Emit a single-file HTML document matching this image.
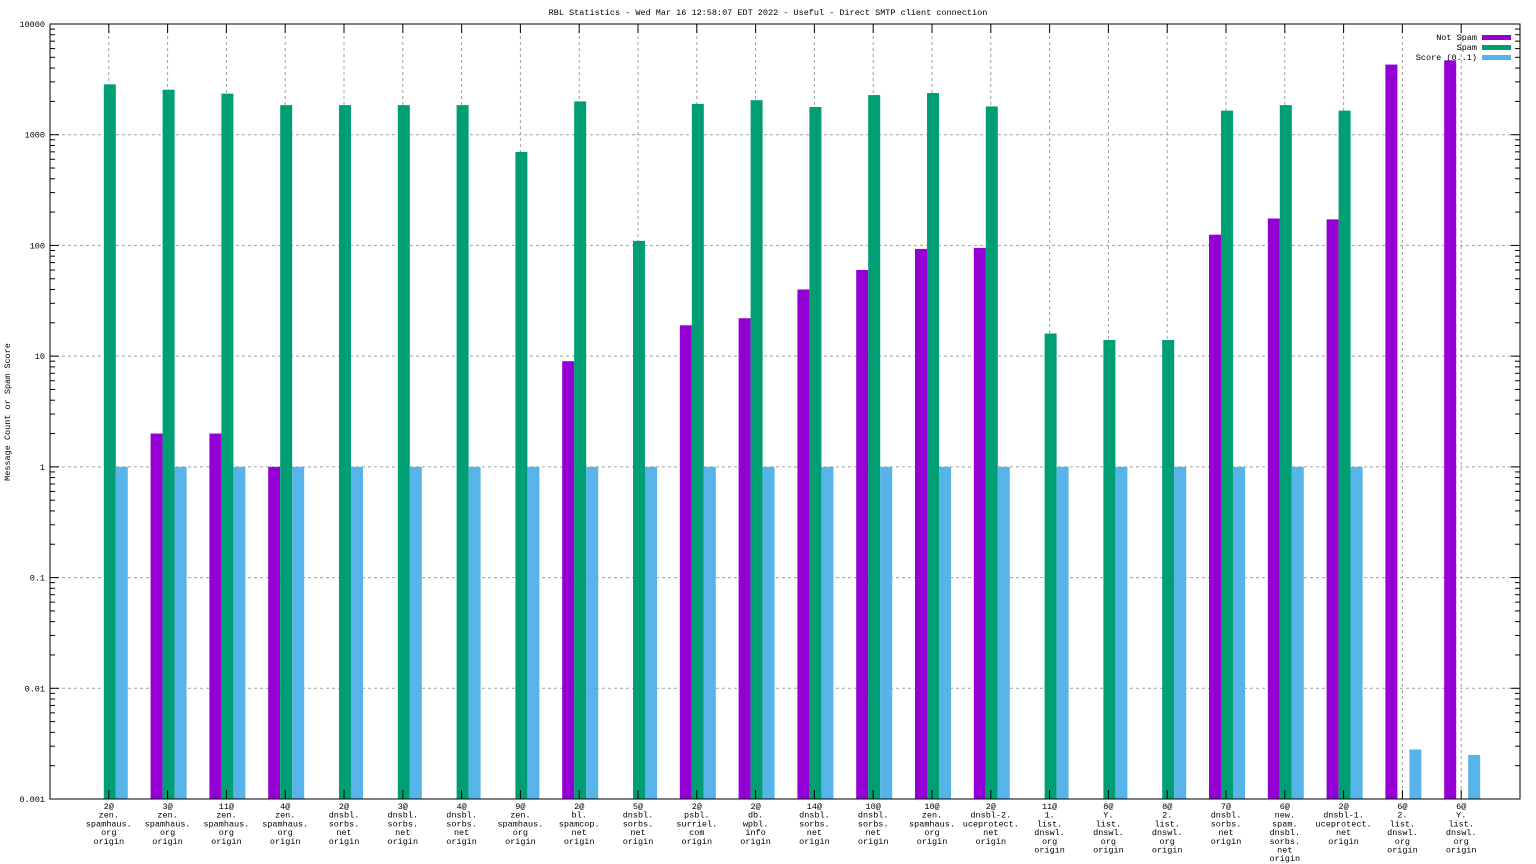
<!DOCTYPE html>
<html><head><meta charset="utf-8"><style>
body{margin:0;background:#fff;}
svg{display:block;font-family:"Liberation Mono",monospace;font-size:8.5px;}
</style></head><body>
<svg id="chart" width="1536" height="864" xmlns="http://www.w3.org/2000/svg">
<rect width="1536" height="864" fill="#fff"/>
<text x="768" y="15" text-anchor="middle">RBL Statistics - Wed Mar 16 12:58:07 EDT 2022 - Useful - Direct SMTP client connection</text>
<text transform="translate(10,412) rotate(-90)" text-anchor="middle">Message Count or Spam Score</text>
<g id="grid"></g><g id="bars"></g><g id="axes"></g><g id="legend"></g>
</svg>
<script>
const categories=[["2@","zen.","spamhaus.","org","origin"],["3@","zen.","spamhaus.","org","origin"],["11@","zen.","spamhaus.","org","origin"],["4@","zen.","spamhaus.","org","origin"],["2@","dnsbl.","sorbs.","net","origin"],["3@","dnsbl.","sorbs.","net","origin"],["4@","dnsbl.","sorbs.","net","origin"],["9@","zen.","spamhaus.","org","origin"],["2@","bl.","spamcop.","net","origin"],["5@","dnsbl.","sorbs.","net","origin"],["2@","psbl.","surriel.","com","origin"],["2@","db.","wpbl.","info","origin"],["14@","dnsbl.","sorbs.","net","origin"],["10@","dnsbl.","sorbs.","net","origin"],["10@","zen.","spamhaus.","org","origin"],["2@","dnsbl-2.","uceprotect.","net","origin"],["11@","1.","list.","dnswl.","org","origin"],["8@","Y.","list.","dnswl.","org","origin"],["8@","2.","list.","dnswl.","org","origin"],["7@","dnsbl.","sorbs.","net","origin"],["6@","new.","spam.","dnsbl.","sorbs.","net","origin"],["2@","dnsbl-1.","uceprotect.","net","origin"],["6@","2.","list.","dnswl.","org","origin"],["6@","Y.","list.","dnswl.","org","origin"]];
const notSpam=[null,2,2,1,null,null,null,null,9,null,19,22,40,60,93,95,null,null,null,125,175,172,4300,4700];
const spam=[2850,2550,2350,1850,1850,1850,1850,700,2000,110,1900,2050,1780,2280,2380,1800,16,14,14,1650,1850,1650,null,null];
const score=[1,1,1,1,1,1,1,1,1,1,1,1,1,1,1,1,1,1,1,1,1,1,0.0028,0.0025];
const yTicks=[0.001,0.01,0.1,1,10,100,1000,10000];
const yTickLabels=["0.001","0.01","0.1","1","10","100","1000","10000"];
const NS="http://www.w3.org/2000/svg";
const L=50,R=1520,T=24,B=799;
const slot=(R-L)/(categories.length+1);
function xc(i){return L+slot*(i+1);}
function y(v){return B-(Math.log10(v)+3)/7*(B-T);}
function mk(tag,attrs,parent){const e=document.createElementNS(NS,tag);for(const k in attrs)e.setAttribute(k,attrs[k]);parent.appendChild(e);return e;}
const grid=document.getElementById('grid'),bars=document.getElementById('bars'),axes=document.getElementById('axes'),leg=document.getElementById('legend');
yTicks.forEach((v,k)=>{
  const yy=y(v);
  if(k>0&&k<yTicks.length-1){const g=mk('line',{x1:L,x2:R,y1:yy,y2:yy,stroke:'#a0a0a0','stroke-dasharray':'3,3'},grid);
  
  }
  mk('line',{x1:L,x2:L+9,y1:yy,y2:yy,stroke:'#000'},axes);
  mk('line',{x1:R,x2:R-9,y1:yy,y2:yy,stroke:'#000'},axes);
  const t=mk('text',{x:L-5,y:yy+3,'text-anchor':'end'},axes);t.textContent=yTickLabels[k];
  
  
  if(k<yTicks.length-1)for(let m=2;m<=9;m++){const my=y(v*m);mk('line',{x1:L,x2:L+5,y1:my,y2:my,stroke:'#000'},axes);mk('line',{x1:R,x2:R-5,y1:my,y2:my,stroke:'#000'},axes);}
});
const series=[[notSpam,'#9400d3',-17,'not-spam'],[spam,'#009e73',-5,'spam'],[score,'#56b4e9',7,'score']];
categories.forEach((c,i)=>{
  const x=xc(i);
  const g=mk('line',{x1:x,x2:x,y1:T,y2:B,stroke:'#a0a0a0','stroke-dasharray':'3,3'},grid);
  
  
  mk('line',{x1:x,x2:x,y1:B,y2:B-9,stroke:'#000'},axes);
  mk('line',{x1:x,x2:x,y1:T,y2:T+9,stroke:'#000'},axes);
  const t=mk('text',{x:x,y:B+10,'text-anchor':'middle'},axes);
  
  
  c.forEach((s,j)=>{const ts=mk('tspan',{x:x,dy:j?8.7:0},t);ts.textContent=s;});
  series.forEach(([arr,col,off,nm])=>{
    const v=arr[i];if(v==null)return;
    const yy=y(v);
    const r=mk('rect',{x:x+off,y:yy,width:12,height:B-yy,fill:col},bars);
    
    
  });
});
mk('rect',{x:L,y:T,width:R-L,height:B-T,fill:'none',stroke:'#000'},axes);
[['Not Spam','#9400d3'],['Spam','#009e73'],['Score (0..1)','#56b4e9']].forEach(([n,c],k)=>{
  const yy=37+k*10;
  const t=mk('text',{x:1477,y:yy+3,'text-anchor':'end'},leg);t.textContent=n;
  
  
  const r=mk('rect',{x:1482,y:yy-2,width:29,height:5,fill:c},leg);
  
  
});
</script>
</body></html>
